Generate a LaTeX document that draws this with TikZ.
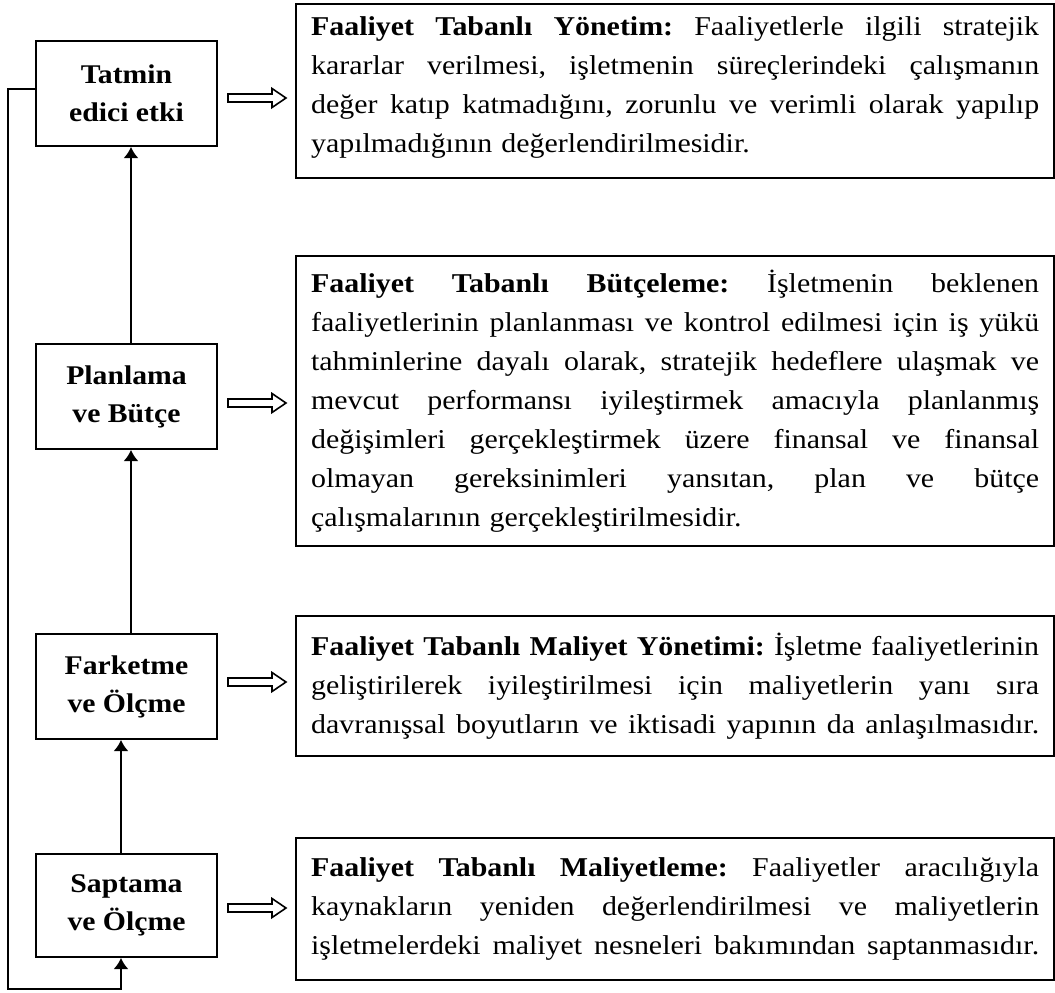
\documentclass[tikz,border=0pt]{standalone}
\usepackage{fontspec}
\setmainfont{Liberation Serif}[FakeStretch=1.1]
\usetikzlibrary{arrows.meta}

% one drawing unit = 0.5pt
\newlength{\pxu}\setlength{\pxu}{0.5pt}
\newlength{\descw}\setlength{\descw}{364pt}
% a fully justified line of the description boxes
\newcommand{\jline}[1]{\leavevmode\hbox to\descw{\frenchspacing\spaceskip=0.25em plus 1fil\relax #1}}

\tikzset{
  stage/.style={draw, line width=1pt, minimum width=181\pxu, minimum height=105\pxu,
    inner sep=0pt, align=center, font=\fontsize{13.5}{19}\selectfont\bfseries},
  descbox/.style={draw, line width=1.1pt, anchor=north west, text width=\descw,
    inner xsep=15\pxu, inner ysep=0pt, align=left,
    font=\fontsize{13.6}{19.5}\selectfont},
  flow/.style={line width=1pt, -{Latex[length=5.5pt,width=7.5pt]}},
  pics/blockarrow/.style={code={
    \draw[line width=0.8pt, line join=miter, fill=white]
      (0,-4) -- (44,-4) -- (44,-9.5) -- (58,0) -- (44,9.5) -- (44,4) -- (0,4) -- cycle;}}
}

\begin{document}
\begin{tikzpicture}[x=0.5pt, y=-0.5pt]
\useasboundingbox (0,0) rectangle (1055,992);

% stages of the cycle
\node[stage] (l1) at (126.5,93.5) {Tatmin\\edici etki};
\node[stage] (l2) at (126.5,396.5) {Planlama\\ve Bütçe};
\node[stage] (l3) at (126.5,686.5) {Farketme\\ve Ölçme};
\node[stage, minimum height=103\pxu] (l4) at (126.5,905.5) {Saptama\\ve Ölçme};

% descriptions
\node[descbox, minimum height=174\pxu] (r1) at (295,3) {%
\jline{\textbf{Faaliyet Tabanlı Yönetim:}\ Faaliyetlerle ilgili stratejik}\\
\jline{kararlar verilmesi, işletmenin süreçlerindeki çalışmanın}\\
\jline{değer katıp katmadığını, zorunlu ve verimli olarak yapılıp}\\
yapılmadığının değerlendirilmesidir.\vspace{8\pxu}};

\node[descbox, minimum height=290\pxu] (r2) at (295,255) {%
\jline{\textbf{Faaliyet Tabanlı Bütçeleme:}\ İşletmenin beklenen}\\
\jline{faaliyetlerinin planlanması ve kontrol edilmesi için iş yükü}\\
\jline{tahminlerine dayalı olarak, stratejik hedeflere ulaşmak ve}\\
\jline{mevcut performansı iyileştirmek amacıyla planlanmış}\\
\jline{değişimleri gerçekleştirmek üzere finansal ve finansal}\\
\jline{olmayan gereksinimleri yansıtan, plan ve bütçe}\\
çalışmalarının gerçekleştirilmesidir.};

\node[descbox, minimum height=140\pxu] (r3) at (295,615) {%
\jline{\textbf{Faaliyet Tabanlı Maliyet Yönetimi:}\ İşletme faaliyetlerinin}\\
\jline{geliştirilerek iyileştirilmesi için maliyetlerin yanı sıra}\\
\jline{davranışsal boyutların ve iktisadi yapının da anlaşılmasıdır.}};

\node[descbox, minimum height=142\pxu] (r4) at (295,837) {%
\jline{\textbf{Faaliyet Tabanlı Maliyetleme:}\ Faaliyetler aracılığıyla}\\
\jline{kaynakların yeniden değerlendirilmesi ve maliyetlerin}\\
\jline{işletmelerdeki maliyet nesneleri bakımından saptanmasıdır.}};

% block arrows from each stage to its description
\pic at (228,98) {blockarrow};
\pic at (228,403) {blockarrow};
\pic at (228,682) {blockarrow};
\pic at (228,908) {blockarrow};

% columns of the upward connectors
\coordinate (colA) at (121,0);
\coordinate (colB) at (131,0);
\draw[flow] (l4.north -| colA) -- (l3.south -| colA);
\draw[flow] (l3.north -| colB) -- (l2.south -| colB);
\draw[flow] (l2.north -| colB) -- (l1.south -| colB);

% feedback loop from the top stage back to the bottom one
\coordinate (fbTop) at (8,89);
\coordinate (fbBot) at (121,989);
\draw[flow] (l1.west |- fbTop) -- (fbTop) |- (fbBot) -- (l4.south -| fbBot);
\end{tikzpicture}
\end{document}
